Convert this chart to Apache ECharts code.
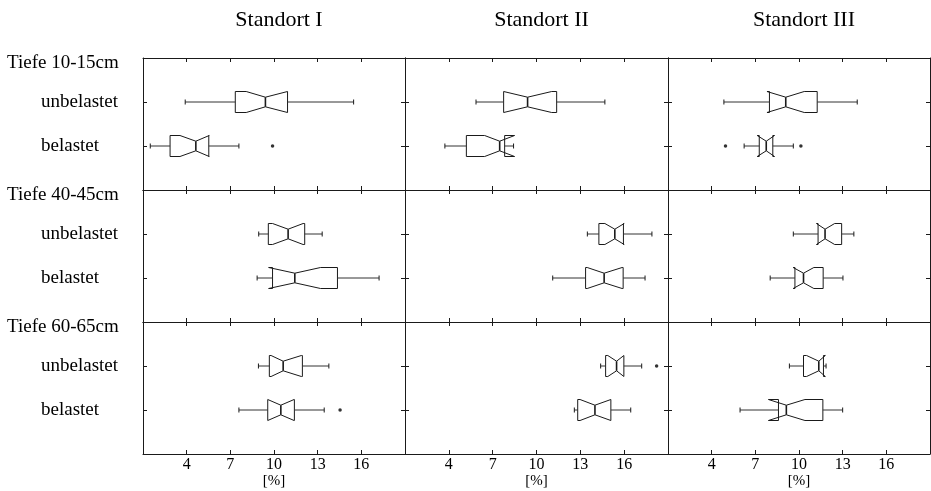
<!DOCTYPE html>
<html>
<head>
<meta charset="utf-8">
<script src="https://cdn.jsdelivr.net/npm/echarts@6/dist/echarts.min.js"></script>
<style>
  html, body { margin: 0; padding: 0; background: #fff; }
  #main { width: 931px; height: 491px; }
</style>
</head>
<body>
<div id="main"></div>
<script>
// Beschriftungen
var sites = ['Standort I', 'Standort II', 'Standort III'];
var depths = ['Tiefe 10-15cm', 'Tiefe 40-45cm', 'Tiefe 60-65cm'];
var treatments = ['unbelastet', 'belastet'];
var xTicks = [4, 7, 10, 13, 16];

// je Box: [Whisker unten, Q1, Kerbe unten, Median, Kerbe oben, Q3, Whisker oben]
// erste Zeile unbelastet, zweite belastet
var I_10 = [[3.9, 7.34, 8.09, 9.41, 10.93, 10.93, 15.47], [1.5, 2.86, 3.54, 4.63, 5.55, 5.52, 7.59]];
var II_10 = [[5.86, 7.75, 7.75, 9.39, 11.04, 11.38, 14.68], [3.73, 5.2, 6.45, 7.48, 8.5, 7.82, 8.43]];
var III_10 = [[4.84, 7.97, 7.8, 9.09, 10.36, 11.25, 14.0], [6.23, 7.27, 7.13, 7.75, 8.32, 8.2, 9.61]];
var I_40 = [[8.95, 9.61, 9.9, 10.97, 12.0, 12.11, 13.31], [8.84, 9.9, 9.63, 11.43, 13.2, 14.36, 17.22]];
var II_40 = [[13.48, 14.27, 14.68, 15.36, 16.0, 15.95, 17.9], [11.11, 13.36, 13.47, 14.63, 15.86, 15.93, 17.43]];
var III_40 = [[9.61, 11.31, 11.2, 11.79, 12.45, 12.93, 13.77], [8.02, 9.72, 9.6, 10.31, 11.02, 11.66, 13.02]];
var I_60 = [[8.93, 9.68, 9.8, 10.63, 11.88, 11.95, 13.77], [7.59, 9.57, 9.57, 10.47, 11.38, 11.4, 13.45]];
var II_60 = [[14.39, 14.73, 14.88, 15.48, 15.98, 15.98, 17.2], [12.59, 12.82, 12.98, 14.0, 15.09, 15.09, 16.45]];
var III_60 = [[9.34, 10.31, 10.52, 11.36, 11.81, 11.68, 11.86], [5.95, 8.59, 7.9, 9.13, 10.41, 11.64, 13.0]];

// Ausreisser: [unbelastet], [belastet]
var I_10_out = [[], [9.9]];
var II_10_out = [[], []];
var III_10_out = [[], [4.95, 10.13]];
var I_40_out = [[], []];
var II_40_out = [[], []];
var III_40_out = [[], []];
var I_60_out = [[], [14.54]];
var II_60_out = [[18.22], []];
var III_60_out = [[], []];

var panels = [[I_10, II_10, III_10], [I_40, II_40, III_40], [I_60, II_60, III_60]];
var panelsOut = [[I_10_out, II_10_out, III_10_out], [I_40_out, II_40_out, III_40_out], [I_60_out, II_60_out, III_60_out]];

var font = 'Liberation Serif';
var ink = '#1a1a1a';
var lefts = [143, 405, 668];
var widths = [262, 263, 262];
var tops = [58, 190, 322];

function renderBox(params, api) {
    var row = api.value(0);
    var xs = [];
    for (var k = 1; k <= 7; k++) {
        xs.push(api.coord([api.value(k), row])[0]);
    }
    var cy = api.coord([api.value(1), row])[1];
    var h = 10.5, hm = 4.8, cap = 2.5;
    var wl = xs[0], q1 = xs[1], nl = xs[2], md = xs[3], nh = xs[4], q3 = xs[5], wh = xs[6];
    var st = { stroke: ink, lineWidth: 1, fill: null };
    return {
        type: 'group',
        children: [
            { type: 'polygon', shape: { points: [
                [q1, cy - h], [nl, cy - h], [md, cy - hm], [nh, cy - h], [q3, cy - h],
                [q3, cy + h], [nh, cy + h], [md, cy + hm], [nl, cy + h], [q1, cy + h]
            ] }, style: st },
            { type: 'line', shape: { x1: md, y1: cy - hm, x2: md, y2: cy + hm }, style: { stroke: ink, lineWidth: 1.6 } },
            { type: 'line', shape: { x1: wl, y1: cy, x2: q1, y2: cy }, style: { stroke: '#333', lineWidth: 1 } },
            { type: 'line', shape: { x1: q3, y1: cy, x2: wh, y2: cy }, style: { stroke: '#333', lineWidth: 1 } },
            { type: 'line', shape: { x1: wl, y1: cy - cap, x2: wl, y2: cy + cap }, style: { stroke: ink, lineWidth: 1 } },
            { type: 'line', shape: { x1: wh, y1: cy - cap, x2: wh, y2: cy + cap }, style: { stroke: ink, lineWidth: 1 } }
        ]
    };
}

var grids = [], xAxes = [], yAxes = [], series = [], titles = [], graphics = [];

for (var d = 0; d < 3; d++) {
    for (var s = 0; s < 3; s++) {
        var g = d * 3 + s;
        grids.push({ left: lefts[s], top: tops[d], width: widths[s], height: 132, containLabel: false });
        var xBase = {
            type: 'value', gridIndex: g, min: 1, max: 19,
            axisLine: { show: true, onZero: false, lineStyle: { color: ink, width: 1 } },
            axisTick: { show: true, inside: true, length: 4, customValues: xTicks, lineStyle: { color: ink } },
            splitLine: { show: false }
        };
        xAxes.push(Object.assign({}, xBase, {
            position: 'bottom',
            axisLabel: { show: d === 2, customValues: xTicks, margin: 3, fontFamily: font, fontSize: 16, color: '#000' },
            name: d === 2 ? '[%]' : '', nameLocation: 'middle', nameGap: 20,
            nameTextStyle: { fontFamily: font, fontSize: 15, color: '#000' }
        }));
        xAxes.push(Object.assign({}, xBase, { position: 'top', axisLabel: { show: false } }));

        var yBase = {
            type: 'value', gridIndex: g, min: 0, max: 3, inverse: true,
            axisLine: { show: true, onZero: false, lineStyle: { color: ink, width: 1 } },
            axisTick: { show: true, inside: true, length: 4, customValues: [1, 2], lineStyle: { color: ink } },
            splitLine: { show: false }
        };
        yAxes.push(Object.assign({}, yBase, {
            position: 'left',
            axisLabel: {
                show: s === 0, customValues: [1, 2], align: 'left', margin: 102,
                fontFamily: font, fontSize: 19, color: '#000',
                formatter: function (v) { return treatments[v - 1]; }
            }
        }));
        yAxes.push(Object.assign({}, yBase, { position: 'right', axisLabel: { show: false } }));

        var boxData = panels[d][s].map(function (b, i) { return [i + 1].concat(b); });
        series.push({
            type: 'custom', xAxisIndex: 2 * g, yAxisIndex: 2 * g,
            renderItem: renderBox,
            encode: { x: [1, 2, 3, 4, 5, 6, 7], y: 0 },
            data: boxData, silent: true
        });

        var outData = [];
        panelsOut[d][s].forEach(function (vals, i) {
            vals.forEach(function (v) { outData.push([v, i + 1]); });
        });
        series.push({
            type: 'scatter', xAxisIndex: 2 * g, yAxisIndex: 2 * g,
            symbolSize: 3.5, itemStyle: { color: '#000' },
            data: outData, silent: true
        });
    }
}

sites.forEach(function (name, s) {
    titles.push({
        text: name, left: lefts[s] + widths[s] / 2, top: 4, textAlign: 'center',
        textStyle: { fontFamily: font, fontSize: 22, fontWeight: 'normal', color: '#000' }
    });
});

depths.forEach(function (name, d) {
    graphics.push({
        type: 'text', left: 7, top: tops[d] - 4,
        style: { text: name, fontFamily: font, fontSize: 19, fill: '#000' }
    });
});

var myChart = echarts.init(document.getElementById('main'));
myChart.setOption({
    animation: false,
    backgroundColor: '#fff',
    title: titles,
    grid: grids,
    xAxis: xAxes,
    yAxis: yAxes,
    graphic: graphics,
    series: series
});
</script>
</body>
</html>
